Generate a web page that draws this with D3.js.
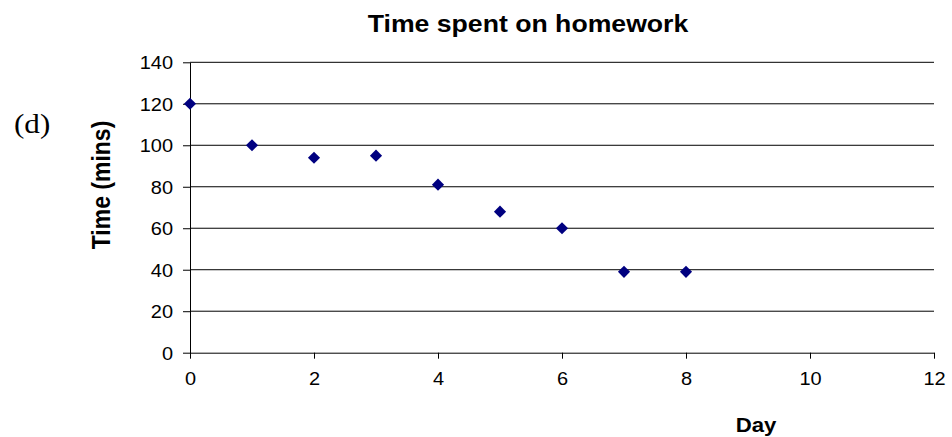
<!DOCTYPE html>
<html><head><meta charset="utf-8">
<script src="https://cdn.jsdelivr.net/npm/d3@7"></script>
<style>body{margin:0;background:#fff}svg{display:block}</style>
</head><body>
<svg id="c" width="952" height="437"></svg>
<script>
const days = [0,1,2,3,4,5,6,7,8];
const minutes = [120,100,94,95,81,68,60,39,39];
const xTicks = [0,2,4,6,8,10,12];
const yTicks = [0,20,40,60,80,100,120,140];

const svg = d3.select("#c");
const sx = 1.11;
const x = d3.scaleLinear().domain([0,12]).range([190,934]);
const y = d3.scaleLinear().domain([0,140]).range([352.7,62.3]);
const font = "Liberation Sans, Arial, sans-serif";

// gridlines
svg.append("g").selectAll("line").data(yTicks.filter(d=>d>0)).join("line")
  .attr("x1",x(0)).attr("x2",x(12)).attr("y1",d=>y(d)).attr("y2",d=>y(d))
  .attr("stroke","#000").attr("stroke-width",1);

// y axis
const ya = svg.append("g").attr("transform",`translate(${x(0)},0)`)
  .call(d3.axisLeft(y).tickValues(yTicks).tickSize(7).tickPadding(10).tickSizeOuter(0));
ya.select(".domain").attr("stroke","#000");
ya.selectAll(".tick line").attr("stroke","#000");
ya.selectAll(".tick text").attr("font-family",font).attr("font-size",18).attr("fill","#000")
  .attr("dy","0.36em").each(function(){const t=d3.select(this);const xx=+t.attr("x");t.attr("x",xx/sx).attr("transform",`scale(${sx},1)`);});

// x axis
const xa = svg.append("g").attr("transform",`translate(0,${y(0)})`)
  .call(d3.axisBottom(x).tickValues(xTicks).tickSize(6).tickPadding(14).tickSizeOuter(0));
xa.select(".domain").attr("stroke","#000");
xa.selectAll(".tick line").attr("stroke","#000");
xa.selectAll(".tick text").attr("font-family",font).attr("font-size",18).attr("fill","#000")
  .attr("transform",`scale(${sx},1)`);

// markers
const sym = d3.symbol().type(d3.symbolSquare).size(74);
svg.append("g").selectAll("path").data(days.map((d,i)=>[d,minutes[i]])).join("path")
  .attr("d",sym)
  .attr("transform",d=>`translate(${x(d[0])},${y(d[1])}) rotate(45)`)
  .attr("fill","#000080");

// title
svg.append("text").attr("transform",`translate(528,32) scale(${sx},1)`)
  .attr("text-anchor","middle").attr("font-family",font).attr("font-weight","bold")
  .attr("font-size",24).text("Time spent on homework");

// x axis title
svg.append("text").attr("transform",`translate(756,432) scale(${sx},1)`)
  .attr("text-anchor","middle").attr("font-family",font).attr("font-weight","bold")
  .attr("font-size",20).text("Day");

// y axis title
svg.append("text").attr("transform",`translate(110,185) scale(${sx},1) rotate(-90)`)
  .attr("text-anchor","middle").attr("font-family",font).attr("font-weight","bold")
  .attr("font-size",23).text("Time (mins)");

// label
svg.append("text").attr("transform",`translate(14,133) scale(${sx},1)`)
  .attr("font-family","Liberation Serif, Times New Roman, serif")
  .attr("font-size",28).text("(d)");
</script>
</body></html>
